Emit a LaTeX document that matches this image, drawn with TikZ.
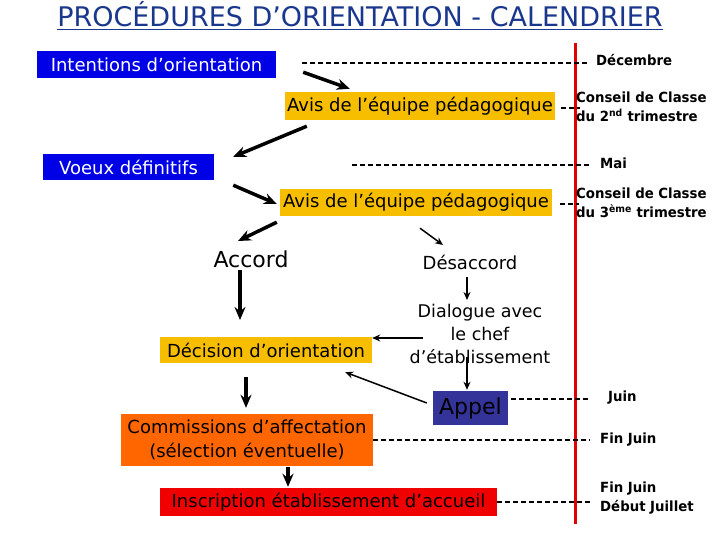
\documentclass[tikz,border=0pt]{standalone}
\usepackage{fontspec}
\setmainfont{DejaVu Sans}
\newfontfamily\datefont[FakeStretch=0.95]{DejaVu Sans}
\usetikzlibrary{arrows.meta}

\definecolor{boxblue}{RGB}{0,0,230}
\definecolor{boxgold}{RGB}{247,190,0}
\definecolor{boxorange}{RGB}{255,102,0}
\definecolor{boxred}{RGB}{240,0,0}
\definecolor{appelblue}{RGB}{51,51,153}
\definecolor{titleblue}{RGB}{25,55,140}
\definecolor{timeline}{RGB}{225,0,0}

\begin{document}
\begin{tikzpicture}[x=1pt, y=-1pt,
    box/.style={rectangle, inner sep=0pt, font=\fontsize{18}{24}\selectfont, align=center},
    bluebox/.style={box, fill=boxblue, text=white},
    goldbox/.style={box, fill=boxgold},
    freetext/.style={inner sep=0pt, align=center},
    datelabel/.style={anchor=west, inner sep=0pt, align=left, font=\datefont\bfseries\fontsize{14}{19}\selectfont},
    dateline/.style={dash pattern=on 5pt off 3pt, line width=1.2pt},
    bigarrow/.style={->, >={Stealth[length=13pt,width=11pt]}, line width=3.5pt},
    arrow/.style={->, >={Stealth[length=8pt,width=7pt]}, line width=1.5pt}
]
\fill[white] (0,0) rectangle (720,540);

% Заголовок
\node[freetext, anchor=base, text=titleblue, font=\fontsize{27}{30}\selectfont] (title) at (360,27)
    {\underline{PROCÉDURES D’ORIENTATION - CALENDRIER}};

% Рисуем этапы
\node[bluebox, minimum width=239pt, minimum height=27pt] (intent) at (156.5,64.5) {Intentions d’orientation};
\node[goldbox, minimum width=270pt, minimum height=28pt] (avis1) at (420,106) {Avis de l’équipe pédagogique};
\node[bluebox, minimum width=171pt, minimum height=26pt] (voeux) at (128.5,167) {Voeux définitifs};
\node[goldbox, minimum width=272pt, minimum height=27pt] (avis2) at (416,202.5) {Avis de l’équipe pédagogique};
\node[freetext, font=\fontsize{22}{26}\selectfont] (accord) at (251,259) {Accord};
\node[freetext, font=\fontsize{18}{22}\selectfont] (desaccord) at (470,262) {Désaccord};
\node[freetext, font=\fontsize{17.5}{23}\selectfont] (dialogue) at (480,334) {Dialogue avec\\le chef\\d’établissement};
\node[goldbox, minimum width=212pt, minimum height=26pt] (decision) at (266,350) {Décision d’orientation};
\node[box, fill=appelblue, font=\fontsize{22}{26}\selectfont, minimum width=75pt, minimum height=34pt] (appel) at (470.5,408) {Appel};
\node[box, fill=boxorange, minimum width=252pt, minimum height=52pt] (comm) at (247,440) {Commissions d’affectation\\(sélection éventuelle)};
\node[box, fill=boxred, minimum width=337pt, minimum height=28pt] (inscr) at (328.5,502) {Inscription établissement d’accueil};

% Календарь
\draw[timeline, line width=3pt] (575,43) -- (575,524);
\node[datelabel] (dec) at (596,60) {Décembre};
\node[datelabel] (cons2) at (576,107) {Conseil de Classe\\du 2\textsuperscript{nd} trimestre};
\node[datelabel] (mai) at (600,163) {Mai};
\node[datelabel] (cons3) at (576,203) {Conseil de Classe\\du 3\textsuperscript{ème} trimestre};
\node[datelabel] (juin) at (608,398) {Juin};
\node[datelabel] (finjuin) at (600,440) {Fin Juin};
\node[datelabel] (juillet) at (600,498) {Fin Juin\\Début Juillet};

% Пунктирные линии к датам
\draw[dateline] ([shift={(26,-1.5)}]intent.east) -- ([shift={(-6,3)}]dec.west);
\draw[dateline] ([shift={(6,2)}]avis1.east) -- ([shift={(4,1)}]cons2.west);
\draw[dateline] ([shift={(138,-2)}]voeux.east) -- ([shift={(-8,2)}]mai.west);
\draw[dateline] ([shift={(8,1.5)}]avis2.east) -- ([shift={(3,1)}]cons3.west);
\draw[dateline] ([shift={(3,-9)}]appel.east) -- ([shift={(-20,1)}]juin.west);
\draw[dateline] (comm.east) -- ([shift={(-10,0)}]finjuin.west);
\draw[dateline] (inscr.east) -- ([shift={(-10,4)}]juillet.west);

% Рисуем стрелки между этапами
\draw[bigarrow] ([shift={(27,-6)}]intent.south east) -- ([shift={(65,-3)}]avis1.north west);
\draw[bigarrow] ([shift={(22,6)}]avis1.south west) -- ([shift={(19,3)}]voeux.north east);
\draw[bigarrow] ([shift={(19,5)}]voeux.south east) -- ([shift={(-3,1.5)}]avis2.west);
\draw[bigarrow] ([shift={(-3,6)}]avis2.south west) -- ([shift={(-13,-18)}]accord.center);
\draw[bigarrow] ([shift={(-11,11)}]accord.center) -- ([shift={(-26,-30)}]decision.center);
\draw[arrow] ([shift={(4,12)}]avis2.south) -- ([shift={(-27,-17)}]desaccord.center);
\draw[arrow] ([shift={(-3,15)}]desaccord.center) -- ([shift={(-13,-34)}]dialogue.center);
\draw[arrow] ([shift={(-57,4)}]dialogue.center) -- ([shift={(0,-12)}]decision.east);
\draw[arrow] ([shift={(-13,23)}]dialogue.center) -- ([shift={(-3.5,-1)}]appel.north);
\draw[arrow] ([shift={(-6,-5)}]appel.west) -- ([shift={(-27,9)}]decision.south east);
\draw[bigarrow] ([shift={(-20,14)}]decision.south) -- ([shift={(-1,-6)}]comm.north);
\draw[bigarrow] ([shift={(41,1)}]comm.south) -- ([shift={(-40.5,-1)}]inscr.north);

\end{tikzpicture}
\end{document}
